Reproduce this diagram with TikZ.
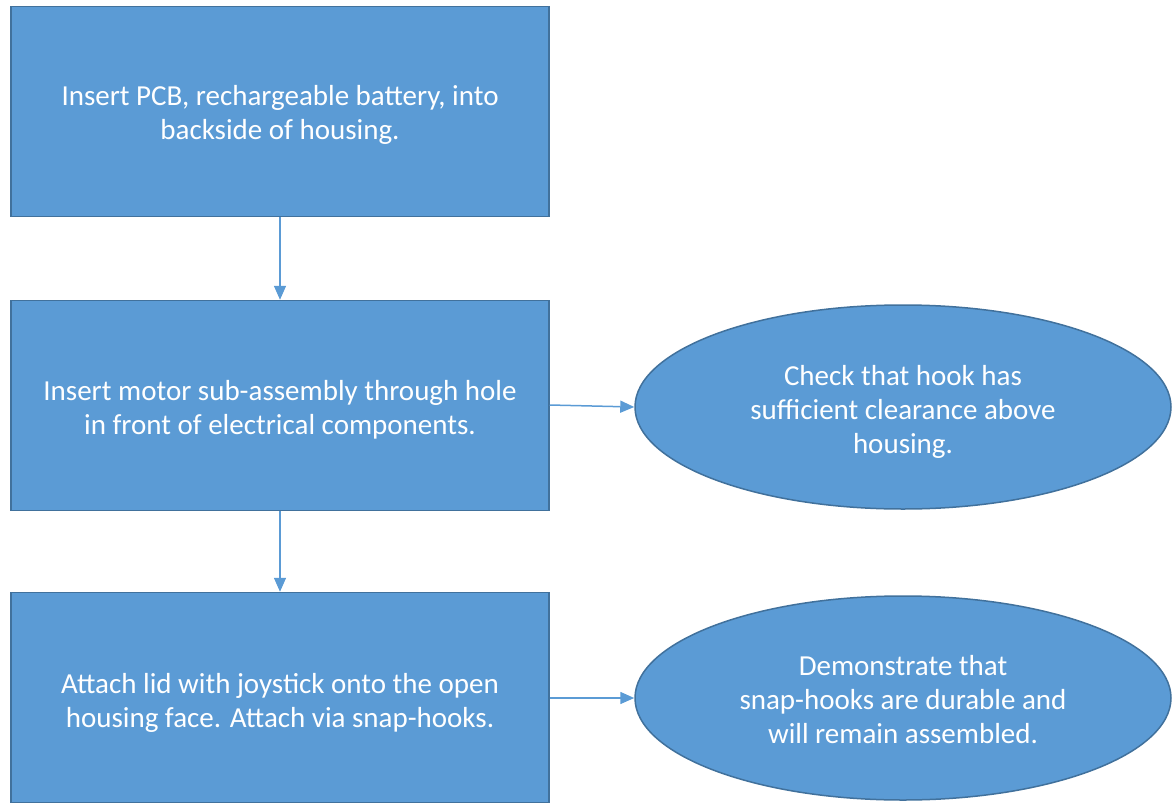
\documentclass[tikz,border=0pt]{standalone}
\usepackage{fontspec}
\setmainfont{Carlito}
\usetikzlibrary{arrows.meta,shapes.geometric}
\definecolor{fillblue}{HTML}{5B9BD5}
\definecolor{edgeblue}{HTML}{41719C}
\definecolor{arrowblue}{HTML}{5B9BD5}
\begin{document}
\begin{tikzpicture}[x=1pt,y=-1pt,
  boxtext/.style={text=white,align=center,font=\fontsize{29}{34}\selectfont},
  stepbox/.style={draw=edgeblue,line width=1.5pt,fill=fillblue,minimum width=538pt,minimum height=210pt,inner sep=0pt},
  checkell/.style={ellipse,draw=edgeblue,line width=1.5pt,fill=fillblue,minimum width=536pt,minimum height=204pt,inner sep=0pt},
  conn/.style={draw=arrowblue,line width=1.5pt,-{Triangle[length=14pt,width=12pt]}}]
\useasboundingbox (0,0) rectangle (1176,803);
\node[stepbox] (b1) at (280,111.5) {};
\node[boxtext] (b1t) at ([yshift=-3.5pt]b1.center) {Insert PCB, rechargeable battery, into\\backside of housing.};
\node[stepbox] (b2) at (280,405.5) {};
\node[boxtext] (b2t) at ([yshift=-4pt]b2.center) {Insert motor sub-assembly through hole\\in front of electrical components.};
\node[stepbox] (b3) at (280,697.5) {};
\node[boxtext] (b3t) at ([yshift=-5pt]b3.center) {Attach lid with joystick onto the open\\housing face. Attach via snap-hooks.};
\node[checkell] (e1) at (903,407) {};
\node[boxtext] (e1t) at ([yshift=-5pt]e1.center) {Check that hook has\\sufficient clearance above\\housing.};
\node[checkell] (e2) at (903,698) {};
\node[boxtext] (e2t) at ([yshift=-2pt]e2.center) {Demonstrate that\\snap-hooks are durable and\\will remain assembled.};
\draw[conn] (b1.south) -- (b2.north);
\draw[conn] (b2.south) -- (b3.north);
\draw[conn] (b2.east |- 0,405) -- (e1.west);
\draw[conn] (b3.east |- 0,698) -- (e2.west);
\end{tikzpicture}
\end{document}
